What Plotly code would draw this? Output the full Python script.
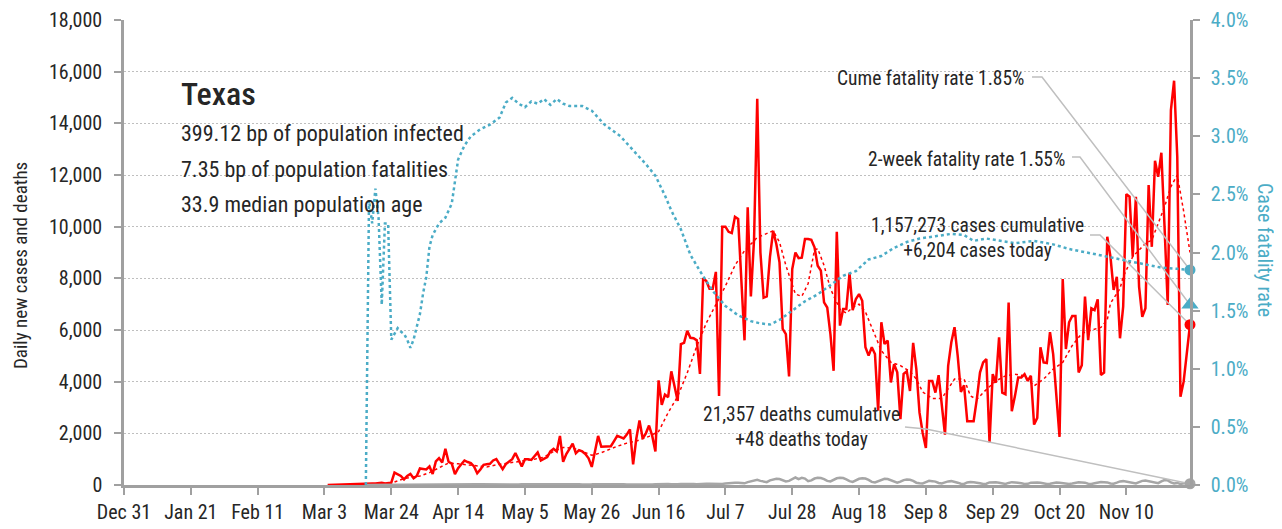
import pandas as pd
import plotly.graph_objects as go

# ---------------- data ----------------
BASE_DATE = pd.Timestamp("2019-12-31")

# daily new cases, starting 2020-03-04
cases_start = "2020-03-04"
cases = [
    0, 2, 3, 5, 8, 10, 15, 20, 25, 30, 35, 40, 45, 50, 55, 60, 70, 90, 60, 70,
    90, 480, 400, 350, 220, 350, 430, 260, 350, 640, 620, 600, 720, 430, 910, 1040,
    870, 1400, 900, 830, 420, 650, 800, 950, 890, 850, 720, 455, 600, 780, 800,
    820, 950, 1000, 810, 610, 810, 900, 1000, 1240, 1000, 720, 1000, 1000, 970, 1100,
    1260, 950, 1000, 1080, 1300, 1400, 1300, 1900, 900, 1200, 1400, 1600, 1230, 1350,
    1300, 1200, 1030, 700, 1300, 1900, 1480, 1480, 1480, 1500, 1700, 1900, 1850, 1800,
    1950, 2150, 800, 1800, 2500, 1800, 2000, 2300, 1900, 1300, 4050, 3100, 3500, 3400,
    4400, 3800, 3250, 5450, 5500, 5970, 5700, 5680, 5600, 4300, 8000, 7900, 7600, 7600,
    8250, 3450, 10000, 10000, 9800, 9750, 10380, 10300, 8000, 5600, 10750, 7300, 9500,
    14950, 9000, 7250, 7300, 8830, 9840, 9330, 8620, 6040, 5840, 4200, 8360, 9000, 8780,
    8800, 9520, 9520, 9490, 9200, 8490, 8300, 7070, 6870, 5840, 4420, 9800, 6170, 6810,
    6810, 8190, 6770, 7200, 7390, 7130, 5330, 5010, 5330, 5070, 2880, 6300, 5460, 5590,
    3970, 4680, 4360, 2550, 4300, 4400, 3640, 5500, 4485, 2800, 2015, 1430, 4030, 4030,
    3575, 4250, 3185, 1950, 4615, 5525, 6110, 5000, 3600, 3860, 2470, 2470, 2470, 3315,
    4355, 4745, 4875, 1650, 4290, 3960, 5720, 3575, 3510, 7060, 2860, 3450, 4160, 4160,
    4290, 4030, 4230, 2340, 2600, 5330, 4745, 4720, 5915, 5070, 3315, 1860, 7970, 5265,
    6300, 6540, 6540, 4355, 4640, 7290, 5610, 6840, 6770, 7190, 4260, 4350, 9610, 8840,
    7550, 8060, 5680, 6900, 11260, 11160, 8840, 11160, 7670, 6510, 6840, 11610, 9220,
    12550, 11930, 12860, 10000, 6970, 14510, 15650, 12710, 3420, 4000, 5000, 6204,
]

# daily new deaths, starting 2020-03-16
deaths_start = "2020-03-16"
deaths = [
    0, 0, 1, 2, 1, 2, 3, 2, 4, 5, 5, 6, 5, 8, 7, 10,
    10, 12, 10, 9, 8, 15, 18, 20, 22, 20, 14, 12, 25, 22, 25, 27, 25, 20, 15, 28,
    30, 28, 25, 26, 20, 18, 25, 30, 32, 28,
    30, 25, 20, 32, 30, 28, 35, 30, 22, 18, 35, 30, 33, 30, 28, 22, 15, 28, 30, 35,
    30, 28, 20, 15, 18, 25, 30, 32, 28, 22, 15,
    20, 30, 28, 30, 25, 18, 15, 22, 30, 28, 32, 30, 20, 15, 25, 32, 35, 38, 35, 28,
    22, 30, 40, 45, 50, 45, 35, 30, 40, 60,
    45, 50, 45, 30, 25, 40, 60, 75, 90, 85, 90, 70, 65, 110, 150, 170, 200, 160, 120,
    110, 180, 220, 240, 230, 180, 140, 160, 230, 290, 230, 280, 250, 150, 180, 250, 280,
    270, 230, 160, 140, 200, 260, 280, 270, 220, 150, 120, 180, 240, 260, 250, 200, 120,
    100, 150, 220, 240, 230, 180, 110, 90, 130, 190, 210, 200, 160, 90, 70, 60, 110, 160,
    150, 130, 80, 60, 100, 140, 150, 130, 90, 50, 40, 100, 120, 110, 100, 70, 40, 50, 100,
    110, 105, 90, 60, 40, 80, 110, 100, 95, 70, 40, 45, 90, 100, 95, 85, 60, 40, 50, 90,
    100, 90, 80, 55, 40, 60, 100, 110, 100, 90, 50, 40, 70, 110, 120, 110, 100, 60, 50, 90,
    140, 150, 130, 110, 70, 60, 110, 160, 170, 150, 120, 80, 70, 140, 190, 180, 100, 60,
    80, 40, 60, 90, 48,
]

# 7-day average of cases (dotted red), read at selected days (days after 2019-12-31)
ma_day = [70, 77, 84, 88, 91, 93, 96, 98, 100, 102, 105, 108, 111, 114, 117, 120, 123,
          126, 129, 132, 135, 138, 141, 144, 147, 150, 152, 155, 158, 161, 165, 168, 171,
          174, 177, 180, 183, 186, 189, 192, 195, 199, 204, 206, 208, 211, 213, 215, 217,
          218, 220, 222, 225, 227, 229, 231, 233, 235, 238, 241, 244, 247, 249, 251, 254,
          257, 259, 261, 264, 266, 268, 271, 274, 277, 280, 283, 286, 289, 292, 295, 298,
          301, 304, 307, 309, 310, 313, 314, 317, 321, 323, 325, 327, 329, 331, 333, 335]
ma_cases = [10, 40, 70, 250, 320, 350, 480, 600, 750, 850, 820, 780, 760, 700, 780, 830,
            900, 930, 1000, 1080, 1300, 1450, 1430, 1300, 1150, 1250, 1360, 1500, 1620,
            1700, 1880, 2070, 2800, 3430, 4340, 5370, 6270, 7000, 7700, 8500, 9070, 9580,
            9840, 9400, 8500, 7390, 7300, 7800, 9100, 9150, 8500, 7600, 6800, 6650, 6880,
            7000, 6700, 6100, 5200, 4750, 4620, 4400, 4100, 3600, 3350, 3350, 3700, 4100,
            4100, 3450, 3315, 3700, 4030, 4225, 4290, 4225, 3835, 4100, 4485, 4745, 5400,
            5870, 6000, 6100, 6390, 7030, 7600, 8060, 8840, 9350, 9480, 10130, 10770, 11550,
            12000, 10600, 9000]

# cumulative case fatality rate (%), read at selected days (days after 2019-12-31)
cfr_day = [76, 77, 78, 79, 80, 81, 82, 83, 84, 85, 86, 87, 88, 89, 90, 91, 92, 93, 94,
           95, 96, 97, 99, 101, 103, 105, 107, 109, 112, 115, 118, 120, 122, 124, 126, 128,
           130, 132, 134, 136, 138, 140, 144, 147, 151, 156, 160, 164, 167, 170, 172, 175,
           178, 181, 185, 189, 193, 197, 200, 203, 206, 210, 214, 218, 222, 226, 230, 234,
           238, 242, 246, 250, 255, 260, 264, 267, 271, 275, 280, 286, 292, 297, 303, 308,
           315, 320, 326, 331, 335]
cfr_pct = [0.0, 2.45, 2.25, 2.55, 2.3, 1.55, 2.25, 2.25, 1.25, 1.3, 1.35, 1.32, 1.3, 1.25,
           1.18, 1.25, 1.35, 1.47, 1.65, 1.79, 2.05, 2.15, 2.25, 2.3, 2.42, 2.8, 2.92, 3.0,
           3.06, 3.1, 3.16, 3.29, 3.33, 3.28, 3.25, 3.3, 3.28, 3.32, 3.27, 3.32, 3.28, 3.26,
           3.26, 3.22, 3.1, 3.0, 2.88, 2.76, 2.66, 2.49, 2.36, 2.2, 1.98, 1.84, 1.67, 1.54,
           1.46, 1.41, 1.39, 1.38, 1.42, 1.5, 1.58, 1.64, 1.72, 1.8, 1.84, 1.94, 1.97, 2.04,
           2.09, 2.12, 2.14, 2.16, 2.15, 2.1, 2.12, 2.1, 2.08, 2.1, 2.07, 2.03, 2.0, 1.97,
           1.93, 1.9, 1.87, 1.86, 1.85]

# summary figures
state_name = "Texas"
bp_infected = 399.12
bp_fatalities = 7.35
median_age = 33.9
cume_cfr = 1.85
two_week_cfr = 1.55
cum_cases = 1157273
new_cases = 6204
cum_deaths = 21357
new_deaths = 48

x_tick_dates = ["2019-12-31", "2020-01-21", "2020-02-11", "2020-03-03", "2020-03-24",
                "2020-04-14", "2020-05-05", "2020-05-26", "2020-06-16", "2020-07-07",
                "2020-07-28", "2020-08-18", "2020-09-08", "2020-09-29", "2020-10-20",
                "2020-11-10"]
x_tick_labels = ["Dec 31", "Jan 21", "Feb 11", "Mar 3", "Mar 24", "Apr 14", "May 5",
                 "May 26", "Jun 16", "Jul 7", "Jul 28", "Aug 18", "Sep 8", "Sep 29",
                 "Oct 20", "Nov 10"]

# ---------------- build ----------------
case_dates = pd.date_range(cases_start, periods=len(cases), freq="D")
death_dates = pd.date_range(deaths_start, periods=len(deaths), freq="D")
ma_dates = [BASE_DATE + pd.Timedelta(days=d) for d in ma_day]
cfr_dates = [BASE_DATE + pd.Timedelta(days=d) for d in cfr_day]
last_date = case_dates[-1]

FONT = "Liberation Sans Narrow, Arial Narrow, Roboto Condensed, Roboto, sans-serif"
TXT = "#262626"
BLUE = "#4BACC6"
RED = "#FF0000"
GRAY = "#A6A6A6"
LINEGRAY = "#BFBFBF"
AXGRAY = "#A0A0A0"

Y_MAX = 18000
CFR_MAX = 0.04

# page layout (the html body adds an 8px margin around the figure)
OFF = 8
FIG_W, FIG_H = 1282 - OFF, 529 - OFF
# plot area in page pixels: x 124..1190, y 20..485
L, R, T, B = 124, 1190, 20, 485
span_days = (last_date - BASE_DATE).days


def px(xp):
    return (xp - L) / (R - L)


def py(yp):
    return (B - yp) / (B - T)


def page_to_date(xp):
    return BASE_DATE + pd.Timedelta(days=px(xp) * span_days)


def page_to_cases(yp):
    return py(yp) * Y_MAX


fig = go.Figure()

fig.add_trace(go.Scatter(x=cfr_dates, y=[v / 100 for v in cfr_pct], yaxis="y2",
                         mode="lines", line=dict(color=BLUE, width=2.5, dash="dot"),
                         hoverinfo="skip", showlegend=False))
fig.add_trace(go.Scatter(x=ma_dates, y=ma_cases, mode="lines",
                         line=dict(color=RED, width=1.5, dash="dot"),
                         hoverinfo="skip", showlegend=False))
fig.add_trace(go.Scatter(x=case_dates, y=cases, mode="lines",
                         line=dict(color=RED, width=2.5),
                         hoverinfo="skip", showlegend=False))
fig.add_trace(go.Scatter(x=death_dates, y=deaths, mode="lines",
                         line=dict(color=GRAY, width=2.5),
                         hoverinfo="skip", showlegend=False))


# callout connectors (drawn as lines in the cases axis so markers sit on top)
def connector(x0, y0, x1, y1, y_end_cases):
    fig.add_trace(go.Scatter(
        x=[page_to_date(x0), page_to_date(x1), last_date],
        y=[page_to_cases(y0), page_to_cases(y1), y_end_cases],
        mode="lines", line=dict(color=LINEGRAY, width=1.5), cliponaxis=False,
        hoverinfo="skip", showlegend=False))


connector(1032, 77, 1042, 77, cume_cfr / 100 / CFR_MAX * Y_MAX)
connector(1072, 157, 1080, 157, two_week_cfr / 100 / CFR_MAX * Y_MAX)
connector(1090, 235, 1100, 235, new_cases)
connector(905, 427, 926, 429, new_deaths)

# end markers
fig.add_trace(go.Scatter(x=[last_date], y=[new_cases], mode="markers", cliponaxis=False,
                         marker=dict(color=RED, size=11), showlegend=False))
fig.add_trace(go.Scatter(x=[last_date], y=[new_deaths], mode="markers", cliponaxis=False,
                         marker=dict(color=GRAY, size=11), showlegend=False))
fig.add_trace(go.Scatter(x=[last_date], y=[cume_cfr / 100], yaxis="y2", mode="markers",
                         cliponaxis=False, marker=dict(color=BLUE, size=11),
                         showlegend=False))
fig.add_trace(go.Scatter(x=[last_date], y=[two_week_cfr / 100], yaxis="y2", mode="markers",
                         cliponaxis=False,
                         marker=dict(color=BLUE, size=15, symbol="triangle-up"),
                         showlegend=False))

annotations = []


def txt(text, x, y, size, xanchor="left", align="left", color=TXT, angle=0, weight=400):
    annotations.append(dict(text=text, x=px(x), y=py(y), xref="paper", yref="paper",
                            xanchor=xanchor, yanchor="middle", align=align,
                            showarrow=False, textangle=angle,
                            font=dict(family=FONT, size=size, color=color, weight=weight)))


txt(state_name, 179, 94, 32, weight=500)
txt(f"{bp_infected:.2f} bp of population infected", 179, 134, 22)
txt(f"{bp_fatalities:.2f} bp of population fatalities", 179, 169, 22)
txt(f"{median_age:.1f} median population age", 179, 204, 22)
txt(f"Cume fatality rate {cume_cfr:.2f}%", 1026, 79, 19.5, xanchor="right")
txt(f"2-week fatality rate {two_week_cfr:.2f}%", 1067, 159, 19.5, xanchor="right")
txt(f"{cum_cases:,} cases cumulative<br>+{new_cases:,} cases today", 977, 238, 19.5,
    xanchor="center", align="center")
txt(f"{cum_deaths:,} deaths cumulative<br>+{new_deaths:,} deaths today", 801, 427, 19.5,
    xanchor="center", align="center")
txt("Daily new cases and deaths", 20, 266, 19, xanchor="center", angle=-90)
txt("Case fatality rate", 1265, 250, 20, xanchor="center", color=BLUE, angle=90)

fig.update_layout(
    width=FIG_W, height=FIG_H,
    margin=dict(l=L - OFF, r=FIG_W - (R - OFF), t=T - OFF, b=FIG_H - (B - OFF),
                autoexpand=False),
    paper_bgcolor="white", plot_bgcolor="white",
    font=dict(family=FONT, size=20, color=TXT),
    showlegend=False,
    annotations=annotations,
    xaxis=dict(type="date", range=[BASE_DATE, last_date], automargin=False,
               tickvals=x_tick_dates, ticktext=x_tick_labels,
               showgrid=False, zeroline=False,
               showline=True, linecolor=AXGRAY, linewidth=2.5,
               ticks="outside", ticklen=7, tickwidth=2, tickcolor=AXGRAY,
               ticklabelstandoff=0, ticklabeloverflow="allow",
               tickfont=dict(family=FONT, size=20, color=TXT)),
    yaxis=dict(range=[0, Y_MAX], dtick=2000, tickformat=",", automargin=False,
               showgrid=True, gridcolor=LINEGRAY, gridwidth=1, griddash="2px,2px",
               zeroline=False, showline=True, linecolor=AXGRAY, linewidth=2.5,
               ticks="outside", ticklen=7, tickwidth=2, tickcolor=AXGRAY,
               ticklabelstandoff=8, ticklabeloverflow="allow",
               tickfont=dict(family=FONT, size=20, color=TXT)),
    yaxis2=dict(range=[0, CFR_MAX], dtick=0.005, tickformat=".1%", overlaying="y",
                side="right", showgrid=False, zeroline=False, automargin=False,
                showline=True, linecolor=AXGRAY, linewidth=2.5,
                ticks="outside", ticklen=7, tickwidth=2, tickcolor=AXGRAY,
                ticklabelstandoff=7, ticklabeloverflow="allow",
                tickfont=dict(family=FONT, size=20, color=BLUE)),
)

fig.write_html("out.html")
